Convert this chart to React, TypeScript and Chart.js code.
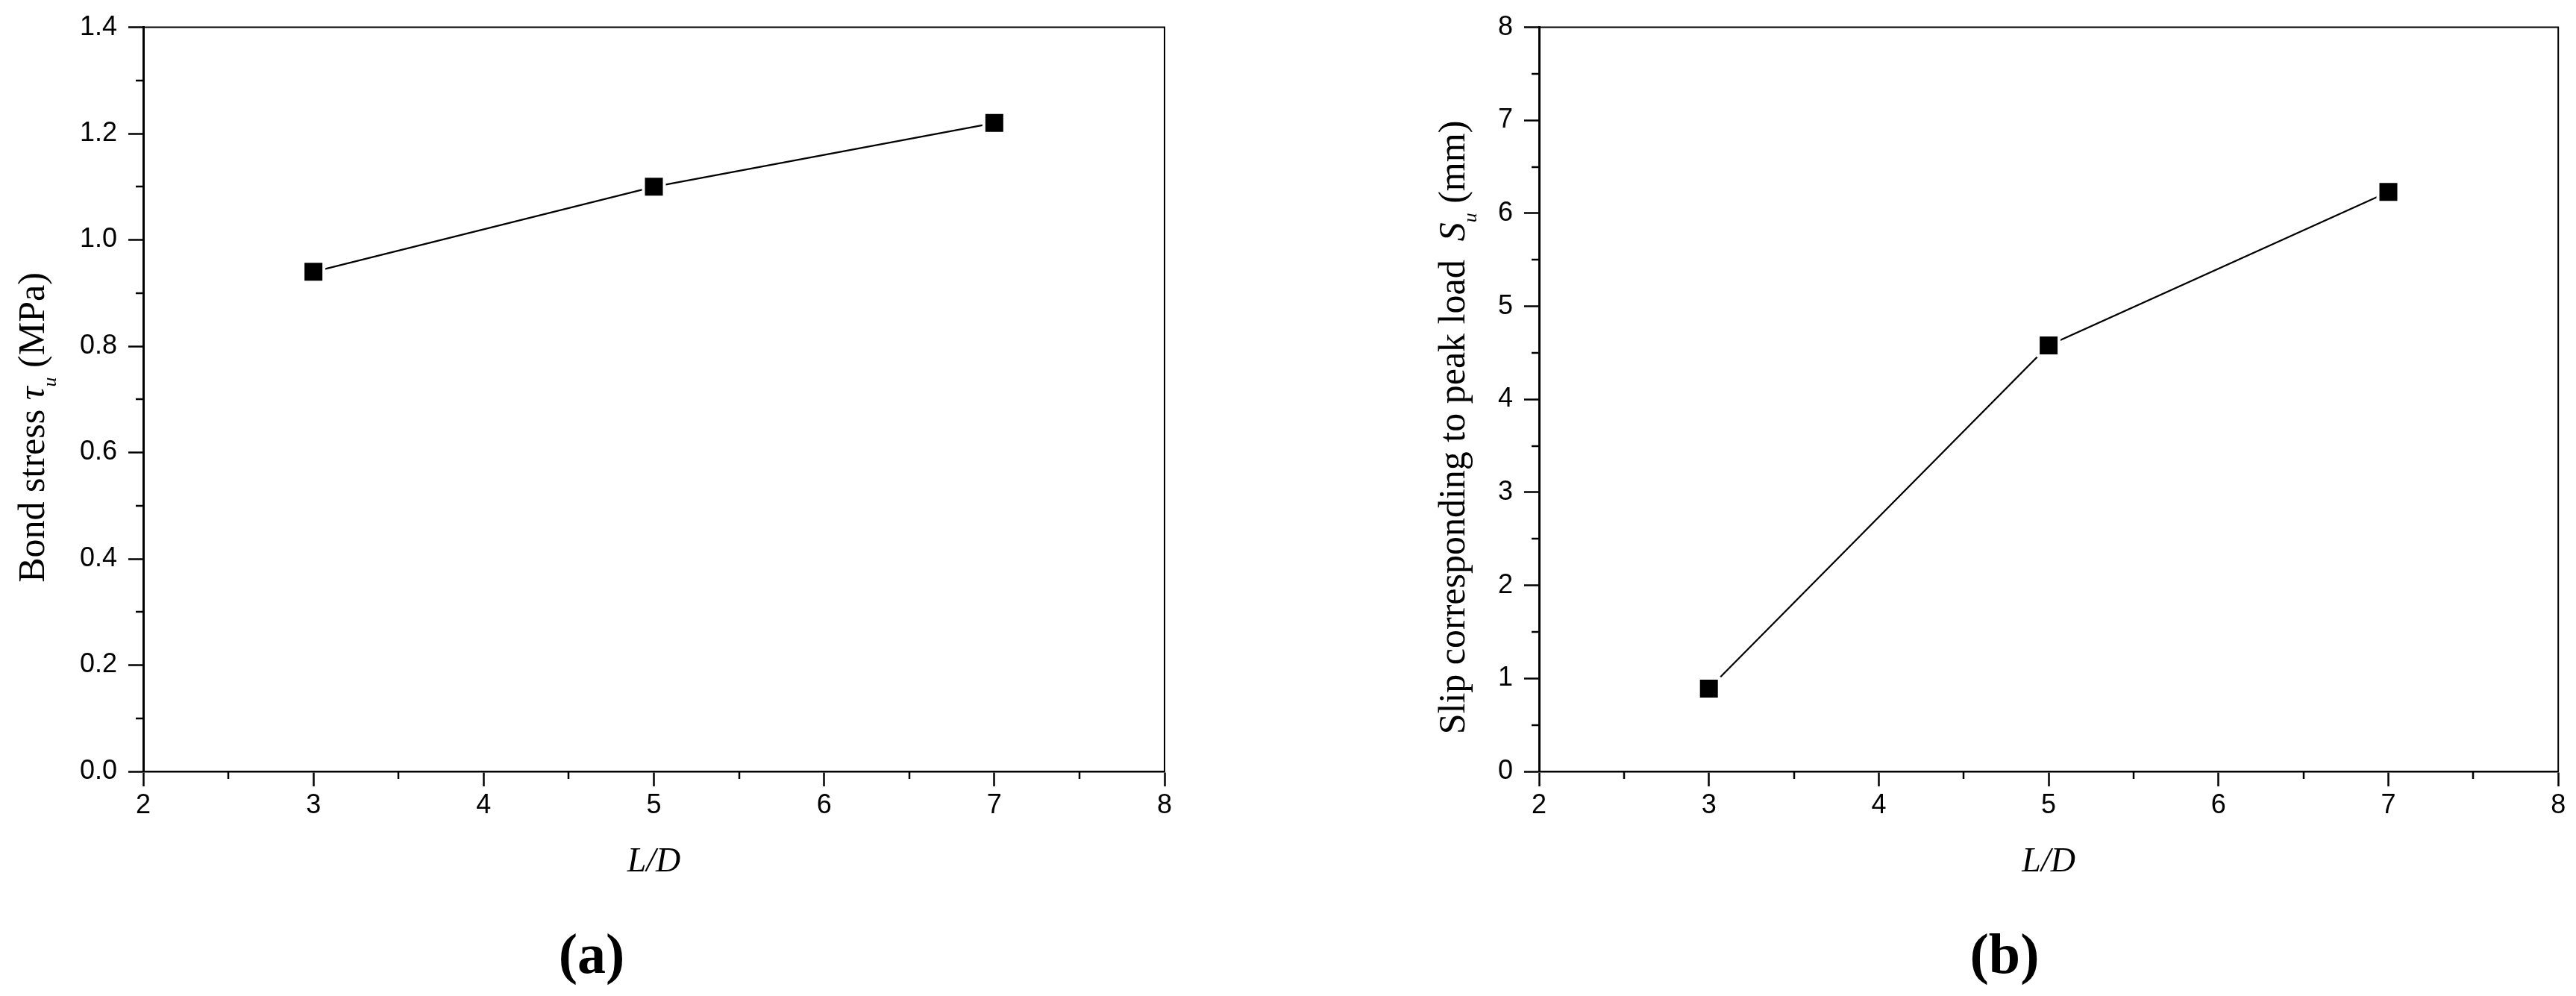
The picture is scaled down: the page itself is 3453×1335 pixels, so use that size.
import React, { useEffect, useRef } from 'react';
import { Chart, registerables } from 'chart.js';

Chart.register(...registerables);

// ---- data ----
const ldValues = [3, 5, 7];
const bondStress = [0.94, 1.10, 1.22];
const slipAtPeak = [0.89, 4.58, 6.23];

const xMinorTicks = [2.5, 3.5, 4.5, 5.5, 6.5, 7.5];
const bondMinorTicks = [0.1, 0.3, 0.5, 0.7, 0.9, 1.1, 1.3];
const slipMinorTicks = [0.5, 1.5, 2.5, 3.5, 4.5, 5.5, 6.5, 7.5];

const xAxisTitle = 'L/D';
const bondTitle = [
  { text: 'Bond stress ', italic: false, sub: false },
  { text: 'τ', italic: true, sub: false },
  { text: 'u', italic: true, sub: true },
  { text: ' (MPa)', italic: false, sub: false },
];
const slipTitle = [
  { text: 'Slip corresponding to peak load  ', italic: false, sub: false },
  { text: 'S', italic: true, sub: false },
  { text: 'u', italic: true, sub: true },
  { text: ' (mm)', italic: false, sub: false },
];

const SERIF = '"Liberation Serif", "Times New Roman", serif';
const SANS = '"Liberation Sans", Arial, sans-serif';

const decorPlugin = {
  id: 'decor',
  afterDraw(chart: any, _args: any, opts: any) {
    const { ctx, chartArea: a, scales } = chart;
    ctx.save();
    ctx.strokeStyle = '#000';
    ctx.fillStyle = '#000';
    // frame top/right
    ctx.lineWidth = 2;
    ctx.beginPath();
    ctx.moveTo(a.left, a.top);
    ctx.lineTo(a.right, a.top);
    ctx.lineTo(a.right, a.bottom);
    ctx.stroke();
    // minor ticks
    ctx.lineWidth = 2.5;
    ctx.beginPath();
    (opts.xMinor || []).forEach((v: number) => {
      const px = Math.round(scales.x.getPixelForValue(v));
      ctx.moveTo(px, a.bottom);
      ctx.lineTo(px, a.bottom + 10);
    });
    (opts.yMinor || []).forEach((v: number) => {
      const py = Math.round(scales.y.getPixelForValue(v));
      ctx.moveTo(a.left - 10, py);
      ctx.lineTo(a.left, py);
    });
    ctx.stroke();
    // x title
    ctx.font = `italic 46px ${SERIF}`;
    ctx.textAlign = 'center';
    ctx.textBaseline = 'alphabetic';
    ctx.fillText(opts.xTitle, (a.left + a.right) / 2, opts.xTitleY);
    // y title (rich, rotated)
    const segs = opts.yTitle as any[];
    const fontFor = (s: any) => `${s.italic ? 'italic ' : ''}${s.sub ? 26 : 50}px ${SERIF}`;
    let total = 0;
    const widths = segs.map((s) => {
      ctx.font = fontFor(s);
      const w = ctx.measureText(s.text).width;
      total += w;
      return w;
    });
    ctx.translate(opts.yTitleX, opts.yTitleCY);
    ctx.rotate(-Math.PI / 2);
    ctx.textAlign = 'left';
    let x = -total / 2;
    segs.forEach((s, i) => {
      ctx.font = fontFor(s);
      ctx.fillText(s.text, x, s.sub ? 16 : 0);
      x += widths[i];
    });
    ctx.setTransform(1, 0, 0, 1, 0, 0);
    // panel label
    ctx.font = `bold 76px ${SERIF}`;
    ctx.textAlign = 'center';
    ctx.fillText(opts.panel, opts.panelX, opts.panelY);
    ctx.restore();
  },
};

function buildConfig(p: {
  values: number[];
  yMin: number;
  yMax: number;
  yStep: number;
  yDecimals: number;
  yAxisWidth: number;
  padRight: number;
  yMinor: number[];
  yTitle: any[];
  yTitleX: number;
  panel: string;
  panelX: number;
}): any {
  return {
    type: 'scatter',
    data: {
      datasets: [
        {
          data: ldValues.map((x, i) => ({ x, y: p.values[i] })),
          showLine: true,
          borderColor: '#000',
          borderWidth: 2.2,
          backgroundColor: '#000',
          pointStyle: 'rect',
          pointRadius: 19.8,
          pointHoverRadius: 19.8,
          pointBackgroundColor: '#000',
          pointBorderColor: '#fff',
          pointBorderWidth: 4,
          tension: 0,
        },
      ],
    },
    options: {
      responsive: false,
      maintainAspectRatio: false,
      animation: false,
      events: [],
      layout: { padding: { left: 0, top: 34, right: p.padRight, bottom: 0 } },
      plugins: {
        legend: { display: false },
        tooltip: { enabled: false },
        decor: {
          xMinor: xMinorTicks,
          yMinor: p.yMinor,
          xTitle: xAxisTitle,
          xTitleY: 1168,
          yTitle: p.yTitle,
          yTitleX: p.yTitleX,
          yTitleCY: 573,
          panel: p.panel,
          panelX: p.panelX,
          panelY: 1304,
        },
      },
      scales: {
        x: {
          type: 'linear',
          min: 2,
          max: 8,
          afterFit: (s: any) => {
            s.height = 301;
          },
          ticks: {
            stepSize: 1,
            color: '#000',
            font: { family: SANS, size: 36 },
            padding: 4,
            maxRotation: 0,
          },
          grid: {
            display: true,
            drawOnChartArea: false,
            drawTicks: true,
            tickLength: 20,
            tickWidth: 2.5,
            tickColor: '#000',
          },
          border: { display: true, color: '#000', width: 2.5 },
        },
        y: {
          type: 'linear',
          min: p.yMin,
          max: p.yMax,
          afterFit: (s: any) => {
            s.width = p.yAxisWidth;
          },
          ticks: {
            stepSize: p.yStep,
            color: '#000',
            font: { family: SANS, size: 36 },
            padding: 15,
            callback: (v: number) => Number(v).toFixed(p.yDecimals),
          },
          grid: {
            display: true,
            drawOnChartArea: false,
            drawTicks: true,
            tickLength: 20,
            tickWidth: 2.5,
            tickColor: '#000',
          },
          border: { display: true, color: '#000', width: 3 },
        },
      },
    },
    plugins: [decorPlugin],
  };
}

export default function App() {
  const leftRef = useRef<HTMLCanvasElement | null>(null);
  const rightRef = useRef<HTMLCanvasElement | null>(null);

  useEffect(() => {
    const c1 = new Chart(
      leftRef.current as HTMLCanvasElement,
      buildConfig({
        values: bondStress,
        yMin: 0,
        yMax: 1.4,
        yStep: 0.2,
        yDecimals: 1,
        yAxisWidth: 192,
        padRight: 165,
        yMinor: bondMinorTicks,
        yTitle: bondTitle,
        yTitleX: 59,
        panel: '(a)',
        panelX: 793,
      })
    );
    const c2 = new Chart(
      rightRef.current as HTMLCanvasElement,
      buildConfig({
        values: slipAtPeak,
        yMin: 0,
        yMax: 8,
        yStep: 1,
        yDecimals: 0,
        yAxisWidth: 337,
        padRight: 20,
        yMinor: slipMinorTicks,
        yTitle: slipTitle,
        yTitleX: 237,
        panel: '(b)',
        panelX: 961,
      })
    );
    return () => {
      c1.destroy();
      c2.destroy();
    };
  }, []);

  return (
    <div
      style={{
        position: 'absolute',
        left: 0,
        top: 0,
        width: 3453,
        height: 1335,
        background: '#fff',
        overflow: 'hidden',
      }}
    >
      <canvas
        ref={leftRef}
        width={1726}
        height={1335}
        style={{ position: 'absolute', left: 0, top: 0, width: 1726, height: 1335 }}
      />
      <canvas
        ref={rightRef}
        width={1727}
        height={1335}
        style={{ position: 'absolute', left: 1726, top: 0, width: 1727, height: 1335 }}
      />
    </div>
  );
}
